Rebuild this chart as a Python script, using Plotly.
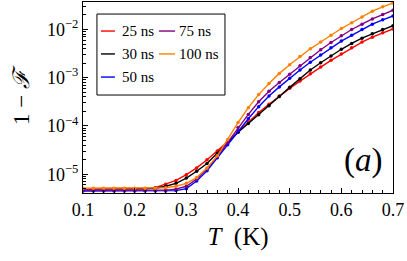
import plotly.graph_objects as go

# Temperature grid (K)
T_K = [0.10, 0.12, 0.14, 0.16, 0.18, 0.20, 0.22, 0.24, 0.26, 0.28, 0.30,
       0.32, 0.34, 0.36, 0.38, 0.40, 0.42, 0.44, 0.46, 0.48, 0.50,
       0.52, 0.54, 0.56, 0.58, 0.60, 0.62, 0.64, 0.66, 0.68, 0.70]

# log10(1 - F)
log_25ns = [-5.31, -5.31, -5.31, -5.31, -5.31, -5.31, -5.31, -5.28, -5.21, -5.13, -5.01,
            -4.87, -4.70, -4.52, -4.33, -4.13, -3.92, -3.72, -3.55, -3.38, -3.22,
            -3.07, -2.92, -2.78, -2.64, -2.51, -2.38, -2.26, -2.16, -2.07, -1.99]
log_30ns = [-5.30, -5.30, -5.30, -5.30, -5.30, -5.30, -5.30, -5.29, -5.25, -5.19, -5.08,
            -4.94, -4.78, -4.57, -4.34, -4.13, -3.95, -3.77, -3.58, -3.39, -3.20,
            -3.02, -2.84, -2.69, -2.55, -2.41, -2.29, -2.18, -2.09, -2.00, -1.92]
log_50ns = [-5.35, -5.35, -5.35, -5.35, -5.35, -5.35, -5.35, -5.35, -5.35, -5.34, -5.30,
            -5.14, -4.93, -4.66, -4.39, -4.10, -3.85, -3.60, -3.38, -3.19, -3.01,
            -2.84, -2.68, -2.53, -2.38, -2.24, -2.12, -2.00, -1.89, -1.80, -1.72]
log_75ns = [-5.33, -5.33, -5.33, -5.33, -5.33, -5.33, -5.33, -5.33, -5.33, -5.31, -5.25,
            -5.10, -4.89, -4.63, -4.34, -4.03, -3.76, -3.50, -3.28, -3.10, -2.93,
            -2.75, -2.58, -2.42, -2.27, -2.13, -2.00, -1.89, -1.78, -1.69, -1.60]
log_100ns = [-5.29, -5.29, -5.29, -5.29, -5.29, -5.29, -5.29, -5.29, -5.28, -5.25, -5.19,
             -5.07, -4.87, -4.62, -4.28, -3.93, -3.62, -3.35, -3.12, -2.91, -2.73,
             -2.56, -2.40, -2.26, -2.12, -1.98, -1.86, -1.74, -1.62, -1.53, -1.45]

series_names = ["25 ns", "30 ns", "50 ns", "75 ns", "100 ns"]
series_logs = [log_25ns, log_30ns, log_50ns, log_75ns, log_100ns]
series_colors = ["#ff0000", "#000000", "#0000ff", "#800080", "#ff8000"]

y_tick_vals = [1e-5, 1e-4, 1e-3, 1e-2]
y_tick_text = ["10<sup>−5</sup>", "10<sup>−4</sup>", "10<sup>−3</sup>", "10<sup>−2</sup>"]
x_tick_vals = [0.1, 0.2, 0.3, 0.4, 0.5, 0.6, 0.7]
x_tick_text = ["0.1", "0.2", "0.3", "0.4", "0.5", "0.6", "0.7"]

FONT = "Liberation Serif, Times New Roman, DejaVu Serif, serif"

fig = go.Figure()
for name, logs, color in zip(series_names, series_logs, series_colors):
    fig.add_trace(go.Scatter(
        x=T_K, y=[10 ** v for v in logs], name=name, mode="lines+markers",
        line=dict(color=color, width=1.4),
        marker=dict(color=color, size=3.5),
        showlegend=False, cliponaxis=True,
    ))

# minor log ticks
minor_vals = []
for e in range(-6, -1):
    for m in range(2, 10):
        minor_vals.append(m * 10 ** e)

fig.update_layout(
    width=407, height=261,
    margin=dict(l=83, r=14, t=2, b=68),
    paper_bgcolor="white", plot_bgcolor="white",
    font=dict(family=FONT, color="black", size=16),
    xaxis=dict(
        range=[0.1, 0.7], tickmode="array", tickvals=x_tick_vals, ticktext=x_tick_text,
        ticks="inside", ticklen=5, tickcolor="black",
        minor=dict(ticks="inside", ticklen=3, dtick=0.02, tick0=0.1, tickcolor="black"),
        showline=True, linecolor="black", linewidth=1, mirror=True,
        showgrid=False, zeroline=False,
        tickfont=dict(size=18, family=FONT, color="black"),
        title=dict(text="<i>T</i>  (K)", font=dict(size=25, family=FONT, color="black"), standoff=8),
    ),
    yaxis=dict(
        type="log", range=[-5.39, -1.43],
        tickmode="array", tickvals=y_tick_vals, ticktext=y_tick_text,
        ticks="inside", ticklen=5, tickcolor="black",
        minor=dict(ticks="inside", ticklen=3, tickmode="array", tickvals=minor_vals, tickcolor="black"),
        showline=True, linecolor="black", linewidth=1, mirror=True,
        showgrid=False, zeroline=False,
        tickfont=dict(size=18, family=FONT, color="black"),
        title=dict(text="1 − <i>ℱ</i>", font=dict(size=23, family=FONT, color="black"), standoff=10),
    ),
)

# Legend drawn as a framed key
fig.add_shape(type="rect", xref="paper", yref="paper", x0=0.045, x1=0.458, y0=0.513, y1=0.937,
              line=dict(color="black", width=1), fillcolor="white", layer="above")
row_y = [0.848, 0.728, 0.607]
positions = [(0, 0), (0, 1), (0, 2), (1, 0), (1, 1)]
col_x = [(0.058, 0.103, 0.119), (0.245, 0.297, 0.303)]
for (col, row), name, color in zip(positions, series_names, series_colors):
    sx0, sx1, tx = col_x[col]
    fig.add_shape(type="line", xref="paper", yref="paper", x0=sx0, x1=sx1,
                  y0=row_y[row], y1=row_y[row], line=dict(color=color, width=1.4), layer="above")
    fig.add_annotation(xref="paper", yref="paper", x=tx, y=row_y[row], text=name,
                       showarrow=False, xanchor="left", yanchor="middle",
                       font=dict(size=15, family=FONT, color="black"))

fig.add_annotation(xref="paper", yref="paper", x=0.975, y=0.17, text="(<i>a</i>)",
                   showarrow=False, xanchor="right", yanchor="middle",
                   font=dict(size=33, family=FONT, color="black"))

fig.write_html("out.html", config={"displayModeBar": False},
               post_script="document.body.style.margin='0';document.body.style.overflow='hidden';")
